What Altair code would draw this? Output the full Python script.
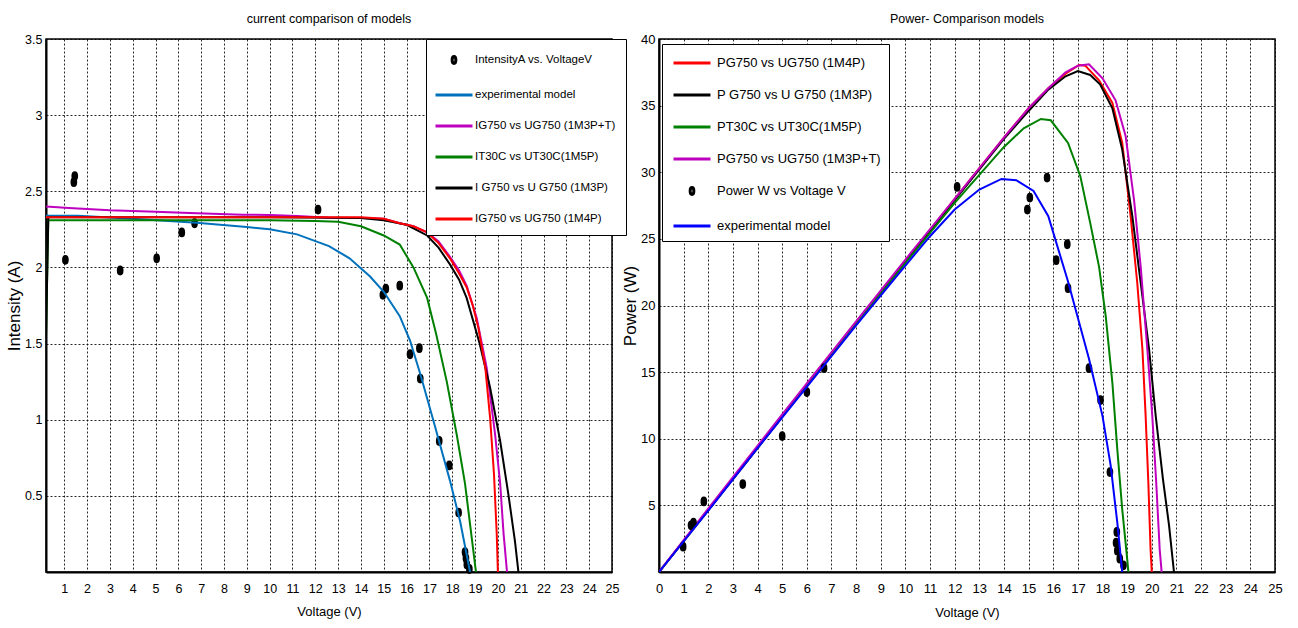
import altair as alt
import pandas as pd

FONT = "Liberation Sans, Arial, sans-serif"

# ---------------- Left panel: current vs voltage ----------------
L_SCAT = "IntensityA vs. VoltageV"
L_EXP = "experimental model"
L_3PT = "IG750 vs UG750 (1M3P+T)"
L_5P = "IT30C vs UT30C(1M5P)"
L_3P = "I G750 vs U G750 (1M3P)"
L_4P = "IG750 vs UG750 (1M4P)"

IV_SCAT_V = [1.05, 1.42, 1.46, 3.45, 5.05, 6.15, 6.71, 12.12, 14.96, 15.09, 15.70, 16.15, 16.56, 16.60,
             17.43, 17.87, 18.28, 18.56, 18.60, 18.64, 18.75]
IV_SCAT_I = [2.05, 2.56, 2.60, 1.98, 2.06, 2.23, 2.29, 2.38, 1.82, 1.86, 1.88, 1.43, 1.47, 1.27,
             0.86, 0.70, 0.39, 0.13, 0.09, 0.05, 0.02]

IV_EXP_V = [0.2, 1.6, 4.0, 6.8, 9.0, 10.0, 11.2, 12.6, 13.5, 14.4, 15.0, 15.7, 16.15, 16.6, 17.2, 17.9, 18.35, 18.78]
IV_EXP_I = [2.34, 2.34, 2.32, 2.293, 2.265, 2.25, 2.217, 2.14, 2.06, 1.94, 1.84, 1.68, 1.52, 1.30, 0.98, 0.60, 0.33, 0.0]

IV_3PT_V = [0.2, 1.2, 3.0, 5.0, 6.5, 8.8, 10.0, 11.2, 12.6, 14.0, 15.0, 15.7, 16.3, 16.9, 17.4, 17.9, 18.3,
            18.63, 19.07, 19.51, 19.88, 20.1, 20.25, 20.4]
IV_3PT_I = [2.40, 2.39, 2.375, 2.366, 2.357, 2.346, 2.345, 2.337, 2.326, 2.325, 2.32, 2.29, 2.27, 2.23, 2.17,
            2.07, 1.98, 1.88, 1.67, 1.34, 0.90, 0.58, 0.25, 0.0]

IV_5P_V = [0.2, 0.3, 5.0, 10.0, 12.0, 13.0, 14.0, 15.0, 15.7, 16.3, 16.9, 17.3, 17.76, 18.2, 18.56, 18.8, 19.04]
IV_5P_I = [1.55, 2.31, 2.31, 2.31, 2.305, 2.30, 2.27, 2.21, 2.15, 2.0, 1.80, 1.56, 1.25, 0.90, 0.58, 0.29, 0.0]

IV_3P_V = [0.2, 0.3, 5.0, 10.0, 14.0, 15.0, 16.0, 16.9, 17.4, 17.9, 18.3, 18.63, 19.2, 19.66, 20.1, 20.46, 20.75, 20.9]
IV_3P_I = [1.55, 2.33, 2.33, 2.33, 2.325, 2.31, 2.28, 2.21, 2.13, 2.02, 1.92, 1.80, 1.50, 1.21, 0.86, 0.51, 0.20, 0.0]

IV_4P_V = [0.2, 5.0, 10.0, 14.0, 15.0, 15.7, 16.3, 16.9, 17.4, 17.9, 18.3, 18.63, 18.9, 19.15, 19.45, 19.66,
           19.83, 19.95, 20.0]
IV_4P_I = [2.33, 2.33, 2.33, 2.33, 2.32, 2.29, 2.27, 2.23, 2.16, 2.06, 1.96, 1.87, 1.75, 1.60, 1.34, 1.01,
           0.64, 0.25, 0.0]

# ---------------- Right panel: power vs voltage ----------------
R_4P = "PG750 vs UG750 (1M4P)"
R_3P = "P G750 vs U G750 (1M3P)"
R_5P = "PT30C vs UT30C(1M5P)"
R_3PT = "PG750 vs UG750 (1M3P+T)"
R_SCAT = "Power W vs Voltage V"
R_EXP = "experimental model"

PV_SCAT_V = [0.98, 1.30, 1.40, 1.82, 3.40, 5.00, 6.00, 6.70, 12.10, 14.95, 15.05, 15.75, 16.12, 16.57, 16.60,
             17.45, 17.92, 18.30, 18.58, 18.55, 18.60, 18.70, 18.85]
PV_SCAT_P = [1.9, 3.5, 3.7, 5.3, 6.6, 10.2, 13.5, 15.3, 28.9, 27.2, 28.1, 29.6, 23.4, 24.6, 21.3,
             15.3, 12.9, 7.5, 3.0, 2.2, 1.6, 1.0, 0.5]

PV_EXP_V = [0, 2, 4, 6, 8, 10, 11, 12, 13, 13.9, 14.5, 15.2, 15.8, 16.6, 17.45, 18.0, 18.33, 18.6, 18.8]
PV_EXP_P = [0, 4.6, 9.3, 13.9, 18.5, 23.0, 25.2, 27.2, 28.7, 29.5, 29.4, 28.6, 26.7, 21.8, 16.0, 11.7, 8.0, 3.7, 0.0]

PV_5P_V = [0, 2, 4, 6, 8, 10, 12, 13, 14, 14.8, 15.5, 15.9, 16.6, 17.1, 17.5, 17.86, 18.13, 18.4, 18.6, 18.8, 19.0, 19.05]
PV_5P_P = [0, 4.65, 9.3, 14.0, 18.6, 23.2, 27.7, 29.8, 31.9, 33.3, 34.0, 33.9, 32.2, 29.7, 26.2, 22.9, 19.2,
           14.2, 9.2, 4.7, 1.0, 0.0]

PV_4P_V = [0, 2, 4, 6, 8, 10, 12, 14, 15, 15.8, 16.5, 17.05, 17.3, 17.86, 18.4, 18.8, 19.14, 19.41, 19.62,
           19.75, 19.86, 19.95, 20.0]
PV_4P_P = [0, 4.66, 9.32, 14.0, 18.6, 23.3, 28.0, 32.6, 34.8, 36.3, 37.4, 38.05, 38.0, 36.9, 35.2, 32.2, 26.7,
           21.7, 16.7, 11.7, 6.7, 1.7, 0.0]

PV_3P_V = [0, 2, 4, 6, 8, 10, 12, 14, 15, 15.8, 16.5, 17.0, 17.5, 17.9, 18.4, 18.8, 19.21, 19.55, 19.89,
           20.16, 20.45, 20.7, 20.9]
PV_3P_P = [0, 4.66, 9.32, 14.0, 18.6, 23.3, 27.9, 32.5, 34.6, 36.2, 37.2, 37.6, 37.3, 36.6, 34.8, 31.7, 26.7,
           21.7, 16.7, 11.7, 7.0, 3.5, 0.0]

PV_3PT_V = [0, 1, 3, 5, 8, 10, 12, 14, 15, 15.8, 16.5, 17.0, 17.45, 18.0, 18.53, 18.94, 19.28, 19.55, 19.82,
            20.02, 20.18, 20.32, 20.4]
PV_3PT_P = [0, 2.4, 7.13, 11.83, 18.8, 23.45, 28.0, 32.6, 34.8, 36.3, 37.5, 38.0, 38.1, 37.05, 35.4, 32.7,
            27.9, 22.9, 16.7, 11.7, 6.7, 1.7, 0.0]

X_TICKS_L = list(range(1, 26))
X_TICKS_R = list(range(0, 26))
Y_TICKS_L = [0.5, 1.0, 1.5, 2.0, 2.5, 3.0, 3.5]
Y_TICKS_R = [5, 10, 15, 20, 25, 30, 35, 40]

ELLIPSE = "M -0.2 0 A 0.2 0.37 0 1 0 0.2 0 A 0.2 0.37 0 1 0 -0.2 0 Z"
LINE = "M -2 0 L 2 0"
SYM = 342


def make_panel(curves, scat_name, scat_v, scat_y, legend_order, colors, draw_order,
               xdom, ydom, xticks, yticks, title, ytitle, w, h, lx, ly, row_pad,
               sym_off, lab_off, leg_font, leg_pad, tick_font):
    rows = []
    for name, (vs, ys) in curves.items():
        for v, y in zip(vs, ys):
            rows.append({"V": v, "Y": y, "series": name})
    for v, y in zip(scat_v, scat_y):
        rows.append({"V": v, "Y": y, "series": scat_name})
    df = pd.DataFrame(rows)

    shapes = [ELLIPSE if s == scat_name else LINE for s in legend_order]
    leg = alt.Legend(title=None, orient="none", legendX=lx, legendY=ly,
                     strokeColor="black", fillColor="white", padding=leg_pad, cornerRadius=0,
                     labelFont=FONT, labelFontSize=leg_font, labelColor="black", labelLimit=400,
                     symbolSize=SYM, symbolStrokeWidth=3, rowPadding=row_pad,
                     symbolOffset=sym_off, labelOffset=lab_off)
    x = alt.X("V:Q", scale=alt.Scale(domain=xdom, nice=False, zero=False),
              axis=alt.Axis(values=xticks, title="Voltage (V)", format="d", labelFontSize=tick_font))
    y = alt.Y("Y:Q", scale=alt.Scale(domain=ydom, nice=False, zero=False),
              axis=alt.Axis(values=yticks, title=ytitle, format="~g", labelFontSize=tick_font))
    color = alt.Color("series:N", scale=alt.Scale(domain=legend_order, range=colors),
                      sort=legend_order, legend=leg)
    shape = alt.Shape("series:N", scale=alt.Scale(domain=legend_order, range=shapes),
                      sort=legend_order, legend=leg)
    base = alt.Chart(df)
    layers = []
    for name in draw_order:
        sub = base.transform_filter(alt.datum.series == name)
        if name == scat_name:
            layers.append(sub.mark_point(filled=True, shape=ELLIPSE, size=SYM, color="black",
                                         opacity=1).encode(x=x, y=y))
            layers.append(sub.mark_point(filled=False, strokeWidth=3, size=SYM, opacity=1)
                          .encode(x=x, y=y, color=color, shape=shape))
        else:
            layers.append(sub.mark_line(strokeWidth=2, clip=True).encode(x=x, y=y, color=color))
    return alt.layer(*layers).properties(
        width=w, height=h,
        title=alt.TitleParams(title, font=FONT, fontSize=12.5, fontWeight="normal",
                              color="black", anchor="middle", offset=8))


left = make_panel(
    {L_EXP: (IV_EXP_V, IV_EXP_I), L_3PT: (IV_3PT_V, IV_3PT_I), L_5P: (IV_5P_V, IV_5P_I),
     L_3P: (IV_3P_V, IV_3P_I), L_4P: (IV_4P_V, IV_4P_I)},
    L_SCAT, IV_SCAT_V, IV_SCAT_I,
    [L_SCAT, L_EXP, L_3PT, L_5P, L_3P, L_4P],
    ["#000000", "#0072BD", "#BF00BF", "#008000", "#000000", "#FF0000"],
    [L_SCAT, L_EXP, L_3PT, L_5P, L_3P, L_4P],
    [0.2, 25], [0, 3.5], X_TICKS_L, Y_TICKS_L,
    "current comparison of models", "Intensity (A)", 566, 533, 380, 0, 14,
    7, 10, 11.5, 10, 12.5)

right = make_panel(
    {R_4P: (PV_4P_V, PV_4P_P), R_3P: (PV_3P_V, PV_3P_P), R_5P: (PV_5P_V, PV_5P_P),
     R_3PT: (PV_3PT_V, PV_3PT_P), R_EXP: (PV_EXP_V, PV_EXP_P)},
    R_SCAT, PV_SCAT_V, PV_SCAT_P,
    [R_4P, R_3P, R_5P, R_3PT, R_SCAT, R_EXP],
    ["#FF0000", "#000000", "#008000", "#BF00BF", "#000000", "#0000FF"],
    [R_4P, R_3P, R_5P, R_3PT, R_SCAT, R_EXP],
    [0, 25], [0, 40], X_TICKS_R, Y_TICKS_R,
    "Power- Comparison models", "Power (W)", 616, 533, 3, 5, 14,
    11, 14, 13, 8, 13)

chart = alt.hconcat(left, right, spacing=47, bounds="flush").resolve_scale(
    color="independent", shape="independent").properties(
    padding={"left": 4, "top": 11, "right": 5, "bottom": 2}
).configure(background="white").configure_view(
    stroke="black", strokeWidth=1.5
).configure_axis(
    labelFont=FONT, labelColor="black", labelFlush=False, labelOverlap=False,
    ticks=False, domainColor="black", domainWidth=2,
    grid=True, gridColor="black", gridDash=[2, 2], gridWidth=1, gridOpacity=0.85,
    titleFont=FONT, titleFontWeight="normal", titleColor="black"
).configure_axisX(
    labelPadding=10, titleFontSize=13, titlePadding=11
).configure_axisY(
    labelPadding=4, titleFontSize=17, titlePadding=1
).configure_legend(
    symbolLimit=0
)

chart.save("out.html", embed_options={"renderer": "svg", "actions": False})
